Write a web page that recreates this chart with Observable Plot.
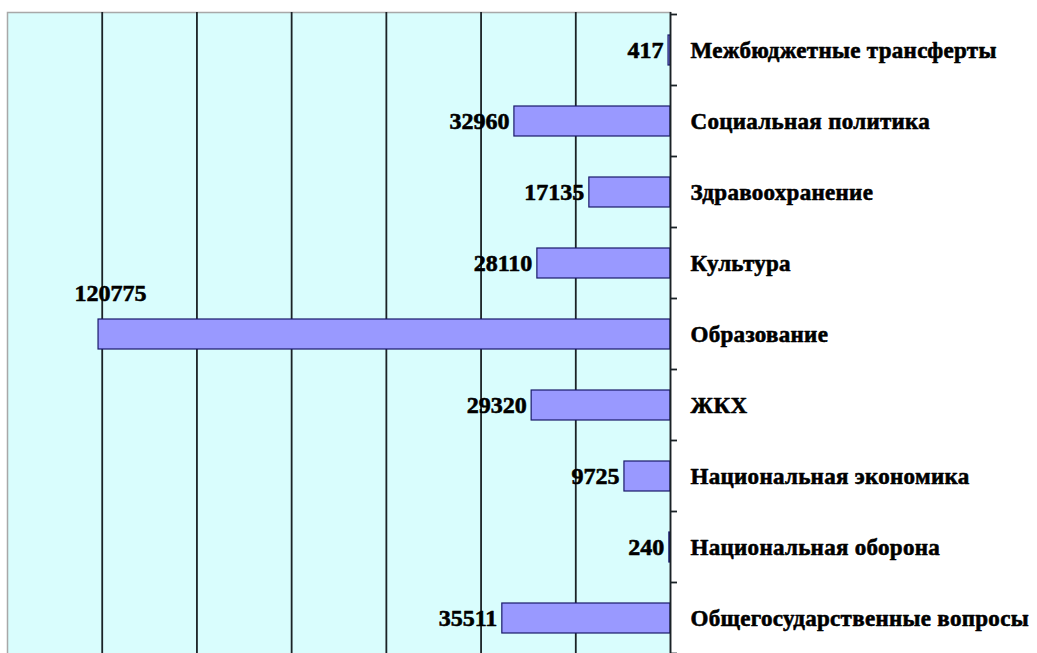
<!DOCTYPE html>
<html>
<head>
<meta charset="utf-8">
<script src="https://cdn.jsdelivr.net/npm/d3@7"></script>
<script src="https://cdn.jsdelivr.net/npm/@observablehq/plot@0.6"></script>
<style>
  html, body { margin: 0; padding: 0; background: #fff; overflow: hidden; }
  #chart svg { display: block; }
</style>
</head>
<body>
<div id="chart"></div>
<script>
const categories = [
  "Межбюджетные трансферты",
  "Социальная политика",
  "Здравоохранение",
  "Культура",
  "Образование",
  "ЖКХ",
  "Национальная экономика",
  "Национальная оборона",
  "Общегосударственные вопросы"
];
const values = [417, 32960, 17135, 28110, 120775, 29320, 9725, 240, 35511];
const gridTicks = [20000, 40000, 60000, 80000, 100000, 120000];

const data = categories.map((name, i) => ({name, value: values[i]}));
const maxValue = d3.max(values);
const font = "'Liberation Serif', 'Times New Roman', serif";

const plot = Plot.plot({
  width: 1037,
  height: 656,
  marginLeft: 7,
  marginRight: 367,
  marginTop: 12,
  marginBottom: 0,
  style: {background: "#ffffff", fontFamily: font, overflow: "visible"},
  x: {domain: [0, 140000], reverse: true, axis: null},
  y: {domain: categories, paddingInner: 0.58, paddingOuter: 0.29, axis: null},
  marks: [
    Plot.frame({fill: "#d9fdfd", stroke: "#a8a8a8", strokeWidth: 1.5}),
    Plot.ruleX(gridTicks, {stroke: "#1a2226", strokeWidth: 1.8}),
    Plot.barX(data, {x: "value", y: "name", fill: "#9999ff", stroke: "#1a1a6a", strokeWidth: 1.2}),
    Plot.ruleX([0], {stroke: "#1a2226", strokeWidth: 1.8}),
    Plot.text(data.filter(d => d.value !== maxValue), {
      x: "value", y: "name", text: d => String(d.value),
      dx: -5, textAnchor: "end", fontSize: 24, fontWeight: "bold", fill: "#000",
      stroke: "#000", strokeWidth: 0.6, fontFamily: font
    }),
    Plot.text(data.filter(d => d.value === maxValue), {
      x: "value", y: "name", text: d => String(d.value),
      dx: 12, dy: -41, textAnchor: "middle", fontSize: 24, fontWeight: "bold", fill: "#000",
      stroke: "#000", strokeWidth: 0.6, fontFamily: font
    }),
    Plot.text(categories, {
      x: 0, y: d => d, text: d => d, dx: 20, textAnchor: "start",
      fontSize: 23, fontWeight: "bold", fill: "#000", stroke: "#000", strokeWidth: 0.6,
      fontFamily: font
    })
  ]
});

// Slightly wider tracking for the category labels
d3.select(plot).selectAll("text")
  .filter(function() { return categories.includes(this.textContent); })
  .attr("letter-spacing", "0.3px");

// Tick marks on the right-hand category axis, at band boundaries
const ys = plot.scale("y");
const xs = plot.scale("x");
const step = ys.step, bw = ys.bandwidth;
const x0 = xs.apply(0);
const bounds = categories.map(c => ys.apply(c) + bw / 2 - step / 2);
bounds.push(ys.apply(categories[categories.length - 1]) + bw / 2 + step / 2);
d3.select(plot).append("g")
  .selectAll("line").data(bounds).join("line")
  .attr("x1", x0).attr("x2", x0 + 7)
  .attr("y1", d => d).attr("y2", d => d)
  .attr("stroke", "#1a2226").attr("stroke-width", 1.8);

document.getElementById("chart").append(plot);
</script>
</body>
</html>
